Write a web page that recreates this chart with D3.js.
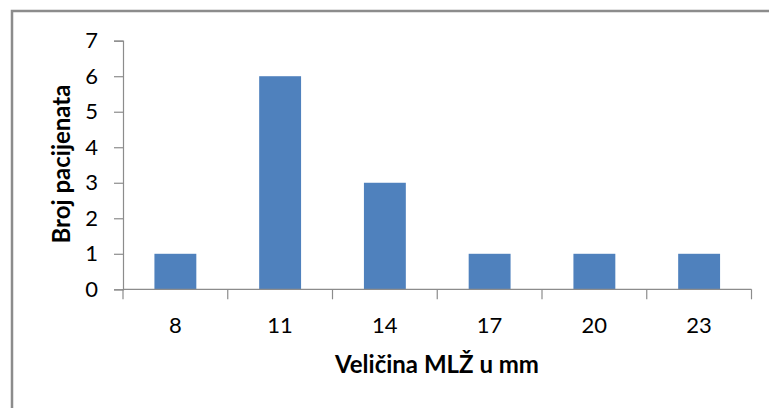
<!DOCTYPE html>
<html>
<head>
<meta charset="utf-8">
<script src="https://cdn.jsdelivr.net/npm/d3@7"></script>
<style>
  html, body { margin: 0; padding: 0; background: #fff; }
  svg { display: block; }
  text { font-family: Lato, "Open Sans", sans-serif; fill: #000; }
</style>
</head>
<body>
<svg id="chart" width="769" height="408"></svg>
<script>
// Number of patients by MLŽ size
const categories = ["8", "11", "14", "17", "20", "23"];
const patients = [1, 6, 3, 1, 1, 1];
const yTicks = [0, 1, 2, 3, 4, 5, 6, 7];
const xTitle = "Veličina MLŽ u mm";
const yTitle = "Broj pacijenata";

const svg = d3.select("#chart");
const W = 769, H = 408;
const margin = { left: 123, right: 17.5, top: 40.7, bottom: 118.7 };

// outer chart frame
svg.append("rect")
  .attr("x", 12).attr("y", 11)
  .attr("width", W).attr("height", H)
  .attr("fill", "#fff")
  .attr("stroke", "#8c8c8c")
  .attr("stroke-width", 2.5);

const x = d3.scaleBand()
  .domain(categories)
  .range([margin.left, W - margin.right])
  .paddingInner(0.6)
  .paddingOuter(0.3);

const y = d3.scaleLinear()
  .domain([0, 7])
  .range([H - margin.bottom, margin.top]);

const axisColor = "#8c8c8c";
const tickFont = 22, titleFont = 24;

// bars
svg.append("g").selectAll("rect")
  .data(patients)
  .join("rect")
  .attr("x", (d, i) => x(categories[i]))
  .attr("y", d => y(d))
  .attr("width", x.bandwidth())
  .attr("height", d => y(0) - y(d))
  .attr("fill", "#4f81bd");

// y axis
const yAxis = svg.append("g")
  .attr("transform", `translate(${margin.left},0)`)
  .call(d3.axisLeft(y).tickValues(yTicks).tickSize(9).tickPadding(16).tickFormat(d3.format("d")));
yAxis.select(".domain").attr("stroke", axisColor).attr("stroke-width", 1.2);
yAxis.selectAll(".tick line").attr("stroke", axisColor).attr("stroke-width", 1.2);
yAxis.selectAll(".tick text").attr("font-size", tickFont).attr("font-family", "Lato, sans-serif").attr("fill", "#000");

// x axis with boundary ticks between categories
const xStart = margin.left, xEnd = W - margin.right;
const xg = svg.append("g").attr("transform", `translate(0,${y(0)})`);
xg.append("line")
  .attr("x1", xStart).attr("x2", xEnd)
  .attr("stroke", axisColor).attr("stroke-width", 1.2);
const bounds = d3.range(categories.length + 1).map(i => xStart + (xEnd - xStart) * i / categories.length);
xg.selectAll("line.tk").data(bounds).join("line")
  .attr("class", "tk")
  .attr("x1", d => d).attr("x2", d => d)
  .attr("y1", 0).attr("y2", 10)
  .attr("stroke", axisColor).attr("stroke-width", 1.2);
xg.selectAll("text").data(categories).join("text")
  .attr("x", d => x(d) + x.bandwidth() / 2)
  .attr("y", 44)
  .attr("text-anchor", "middle")
  .attr("font-size", tickFont)
  .text(d => d);

// axis titles
svg.append("text")
  .attr("x", 437).attr("y", 373)
  .attr("text-anchor", "middle")
  .attr("font-size", titleFont)
  .attr("font-weight", "bold")
  .text(xTitle);

svg.append("text")
  .attr("transform", "translate(70,164) rotate(-90)")
  .attr("text-anchor", "middle")
  .attr("font-size", titleFont)
  .attr("font-weight", "bold")
  .text(yTitle);
</script>
</body>
</html>
